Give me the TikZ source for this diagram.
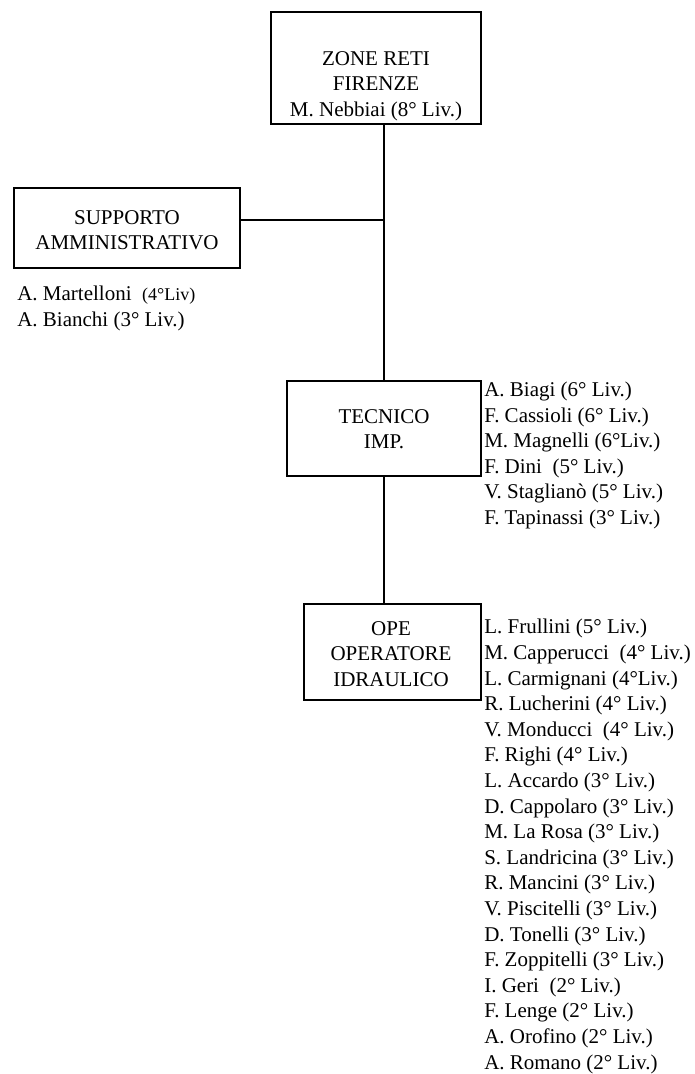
\documentclass[tikz,border=0pt]{standalone}
\usepackage{fontspec}
\setmainfont{Liberation Serif}
\usepackage{tikz}

\tikzset{
  unitbox/.style={draw, rectangle, line width=1pt, inner sep=0pt},
  boxtext/.style={inner sep=0pt, align=center, font=\fontsize{15.75}{19.2}\selectfont},
  namelist/.style={inner sep=0pt, align=left, font=\fontsize{15.75}{19.2}\selectfont},
}

\begin{document}
\begin{tikzpicture}[x=0.75pt,y=0.75pt,yscale=-1,xscale=1]
	\useasboundingbox (0,0) rectangle (695,1074);
	
	%Boxes
	\node [unitbox, minimum width=157.5pt, minimum height=84pt] (zona) at (376,68) {};
	\node [unitbox, minimum width=169.5pt, minimum height=60pt] (supporto) at (127,228) {};
	\node [unitbox, minimum width=145.5pt, minimum height=71.25pt] (tecnico) at (384,428.5) {};
	\node [unitbox, minimum width=132.75pt, minimum height=72pt] (ope) at (392.5,652) {};
	
	%Connectors
	\draw [line width=1pt] (zona.south -| tecnico.north) -- (tecnico.north);
	\draw [line width=1pt] (tecnico.south) -- (tecnico.south |- ope.north);
	\coordinate (suplink) at ([yshift=-6pt]supporto.east);
	\draw [line width=1pt] (suplink) -- (suplink -| tecnico.north);
	
	% Text Node
	\node [boxtext, anchor=north] (zonatxt) at (376,51) {ZONE RETI\\FIRENZE\\M. Nebbiai (8° Liv.)};
	% Text Node
	\node [boxtext, anchor=north] (supportotxt) at (127,210) {SUPPORTO\\AMMINISTRATIVO};
	% Text Node
	\node [boxtext, anchor=north] (tecnicotxt) at (384,409) {TECNICO\\IMP.};
	% Text Node
	\node [boxtext, anchor=north] (opetxt) at (391,621) {OPE\\OPERATORE\\IDRAULICO};
	
	% Text Node
	\node [namelist, anchor=north west] (suplist) at (17,285.6) {A. Martelloni~ {\fontsize{13.5}{16}\selectfont(4°Liv)}\\A. Bianchi (3° Liv.)};
	% Text Node
	\node [namelist, anchor=north west] (teclist) at (484,381.6) {A. Biagi (6° Liv.)\\F. Cassioli (6° Liv.)\\M. Magnelli (6°Liv.)\\F. Dini~ (5° Liv.)\\V. Staglianò (5° Liv.)\\F. Tapinassi (3° Liv.)};
	% Text Node
	\node [namelist, anchor=north west] (opelist) at (484,619) {L. Frullini (5° Liv.)\\M. Capperucci~ (4° Liv.)\\L. Carmignani (4°Liv.)\\R. Lucherini (4° Liv.)\\V. Monducci~ (4° Liv.)\\F. Righi (4° Liv.)\\L. Accardo (3° Liv.)\\D. Cappolaro (3° Liv.)\\M. La Rosa (3° Liv.)\\S. Landricina (3° Liv.)\\R. Mancini (3° Liv.)\\V. Piscitelli (3° Liv.)\\D. Tonelli (3° Liv.)\\F. Zoppitelli (3° Liv.)\\I. Geri~ (2° Liv.)\\F. Lenge (2° Liv.)\\A. Orofino (2° Liv.)\\A. Romano (2° Liv.)};
	
\end{tikzpicture}
\end{document}
